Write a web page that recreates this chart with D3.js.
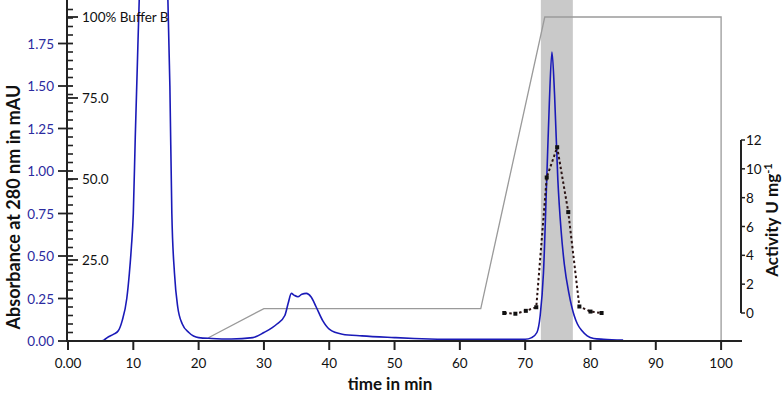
<!DOCTYPE html>
<html><head><meta charset="utf-8">
<script src="https://cdn.jsdelivr.net/npm/d3@7"></script>
<style>body{margin:0;background:#fff}svg{display:block;font-family:Lato,"Open Sans",sans-serif}</style>
</head><body><svg id="c" width="784" height="393"></svg>
<script>
// Absorbance at 280 nm (time in min, value)
const absTime = [0,5,5.5,6,7,7.7,8.3,9,9.4,9.7,10,10.3,10.6,10.9,12,13,14,15,15.3,15.6,15.9,16.3,16.8,17.5,18.5,20,22,25,28.3,30,32,33.2,33.7,34.2,34.6,35.2,35.8,36.5,37.2,38,39,40,42,45,50,53,60,70,71,71.8,72.3,72.8,73.3,73.7,74.1,74.5,75,75.5,76,76.7,77.5,78,78.7,79.5,80.5,82,85];
const absVal  = [0,0,0.005,0.02,0.04,0.06,0.12,0.25,0.4,0.55,0.75,1.2,1.6,2.0,2.6,2.8,2.7,2.3,2.0,1.5,0.75,0.4,0.2,0.1,0.05,0.02,0.015,0.012,0.02,0.05,0.1,0.15,0.22,0.28,0.27,0.26,0.275,0.28,0.26,0.2,0.12,0.07,0.04,0.03,0.02,0.015,0.01,0.01,0.02,0.05,0.15,0.4,0.95,1.4,1.70,1.45,0.95,0.65,0.45,0.28,0.15,0.1,0.06,0.03,0.015,0.01,0.005];
// Buffer B gradient (%)
const bufTime = [21.5,30,63.2,73,100,100];
const bufVal  = [1,10,10,100,100,0];
// Activity (U mg-1)
const actTime = [66.8,68.5,70.1,71.7,73.3,74.9,76.6,78.3,80,81.7];
const actVal  = [0,-0.05,0.15,0.4,9.4,11.5,7.0,0.45,0.1,0];
// Pooled fraction
const poolRange = [72.4,77.3];
// Tick labels
const xTicks = [0,10,20,30,40,50,60,70,80,90,100];
const absTicks = [0,0.25,0.5,0.75,1.0,1.25,1.5,1.75];
const bufTicks = [25,50,75,100];
const actTicks = [0,2,4,6,8,10,12];

const svg = d3.select("#c");
const x = d3.scaleLinear().domain([0,103.2]).range([68,742]);
const yA = d3.scaleLinear().domain([0,2]).range([341,1]);
const yB = d3.scaleLinear().domain([0,100]).range([341,17]);
const yR = d3.scaleLinear().domain([0,12]).range([313,140]);
const blue = "#1a1ab8", labBlue = "#2b2ba0";

svg.append("clipPath").attr("id","cl").append("rect").attr("x",66).attr("y",0).attr("width",680).attr("height",341);

// shaded pool
svg.append("rect").attr("x",x(poolRange[0])).attr("y",0)
  .attr("width",x(poolRange[1])-x(poolRange[0])).attr("height",yA(0))
  .attr("fill","#c9c9c9");

// gradient line
svg.append("path").datum(bufTime.map((t,i)=>[t,bufVal[i]]))
  .attr("d",d3.line().x(d=>x(d[0])).y(d=>yB(d[1])))
  .attr("fill","none").attr("stroke","#9a9a9a").attr("stroke-width",1.3);

// absorbance line
svg.append("path").datum(absTime.map((t,i)=>[t,absVal[i]]))
  .attr("clip-path","url(#cl)")
  .attr("d",d3.line().curve(d3.curveMonotoneX).x(d=>x(d[0])).y(d=>yA(d[1])))
  .attr("fill","none").attr("stroke",blue).attr("stroke-width",1.6);

// activity
const act = actTime.map((t,i)=>[t,actVal[i]]);
svg.append("path").datum(act)
  .attr("d",d3.line().x(d=>x(d[0])).y(d=>yR(d[1])))
  .attr("fill","none").attr("stroke","#2a1212").attr("stroke-width",2).attr("stroke-dasharray","2.5,2.5");
svg.selectAll(".pt").data(act).enter().append("rect")
  .attr("x",d=>x(d[0])-2).attr("y",d=>yR(d[1])-2).attr("width",4).attr("height",4).attr("fill","#111");

// x axis
const gx = svg.append("g").attr("transform","translate(0,341)");
gx.append("line").attr("x1",66).attr("x2",742).attr("stroke","#222").attr("stroke-width",2);
gx.selectAll(".xt").data(xTicks).enter().append("line")
  .attr("x1",d=>x(d)).attr("x2",d=>x(d)).attr("y1",-1).attr("y2",9).attr("stroke","#222").attr("stroke-width",2);
gx.selectAll(".xl").data(xTicks).enter().append("text")
  .attr("x",d=>x(d)).attr("y",27).attr("text-anchor","middle").attr("font-size",13.5).attr("fill","#111")
  .text(d=>d===0?"0.00":d);
svg.append("text").attr("x",390).attr("y",390).attr("text-anchor","middle")
  .attr("font-size",17).attr("font-weight","bold").attr("fill","#111").text("time in min");

// left axis
const gy = svg.append("g");
gy.append("line").attr("x1",67).attr("x2",67).attr("y1",0).attr("y2",342).attr("stroke","#222").attr("stroke-width",2);
const minor = d3.range(0,2.0001,0.05).filter(v=>Math.abs(v/0.25-Math.round(v/0.25))>1e-6);
gy.selectAll(".mn").data(minor).enter().append("line")
  .attr("x1",67).attr("x2",73).attr("y1",d=>yA(d)).attr("y2",d=>yA(d)).attr("stroke","#222").attr("stroke-width",1.6);
gy.selectAll(".mj").data(absTicks).enter().append("line")
  .attr("x1",58).attr("x2",73).attr("y1",d=>yA(d)).attr("y2",d=>yA(d)).attr("stroke","#222").attr("stroke-width",1.8);
gy.selectAll(".ml").data(absTicks).enter().append("text")
  .attr("x",54).attr("y",d=>yA(d)+5).attr("text-anchor","end").attr("font-size",13.5).attr("fill",labBlue)
  .text(d=>d.toFixed(2));
gy.selectAll(".bt").data(bufTicks).enter().append("line")
  .attr("x1",67).attr("x2",78).attr("y1",d=>yB(d)).attr("y2",d=>yB(d)).attr("stroke","#222").attr("stroke-width",1.8);
gy.selectAll(".bl").data(bufTicks).enter().append("text")
  .attr("x",82).attr("y",d=>yB(d)+5).attr("font-size",13.5).attr("fill","#111")
  .text(d=>d===100?"100% Buffer B":d.toFixed(1));
svg.append("text").attr("transform","translate(20,207) rotate(-90)").attr("text-anchor","middle")
  .attr("font-size",18).attr("font-weight","bold").attr("fill","#111").text("Absorbance at 280 nm in mAU");

// right axis
const gr = svg.append("g");
gr.append("line").attr("x1",741).attr("x2",741).attr("y1",yR(12)).attr("y2",yR(0)).attr("stroke","#222").attr("stroke-width",2);
gr.selectAll(".rt").data(actTicks).enter().append("line")
  .attr("x1",741).attr("x2",745).attr("y1",d=>yR(d)).attr("y2",d=>yR(d)).attr("stroke","#222").attr("stroke-width",1.5);
gr.selectAll(".rl").data(actTicks).enter().append("text")
  .attr("x",746).attr("y",d=>yR(d)+5).attr("font-size",13.5).attr("fill","#111").text(d=>d);
const rt = svg.append("text").attr("transform","translate(778,220) rotate(-90)").attr("text-anchor","middle")
  .attr("font-size",17).attr("font-weight","bold").attr("fill","#111");
rt.append("tspan").text("Activity U mg");
rt.append("tspan").attr("font-size",11).attr("dy",-6).text("-1");
</script></body></html>
